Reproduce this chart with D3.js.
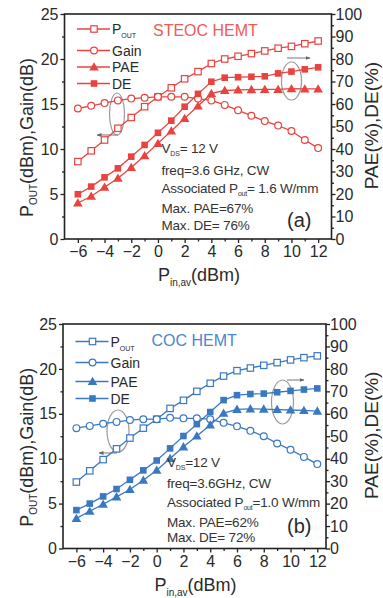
<!DOCTYPE html>
<html>
<head>
<meta charset="utf-8">
<script src="https://cdn.jsdelivr.net/npm/d3@7"></script>
<style>
  html, body { margin: 0; padding: 0; background: #fff; }
  svg { display: block; }
  text { font-family: "Liberation Sans", Arial, sans-serif; }
</style>
</head>
<body>
<svg id="chart" width="383" height="598"></svg>
<script>
// Input drive levels (dBm)
const pinLevels = [-6, -5, -4, -3, -2, -1, 0, 1, 2, 3, 4, 5, 6, 7, 8, 9, 10, 11, 12];

// (a) STEOC HEMT
const steocPout = [8.6, 9.8, 11.0, 12.3, 13.5, 14.7, 15.8, 16.8, 17.8, 18.6, 19.5, 20.0, 20.3, 20.6, 20.9, 21.2, 21.4, 21.7, 22.0];
const steocGain = [14.5, 14.8, 15.1, 15.4, 15.6, 15.7, 15.8, 15.8, 15.8, 15.6, 15.4, 14.9, 14.3, 13.7, 13.1, 12.6, 12.0, 11.0, 10.1];
const steocPAE  = [16.0, 19.0, 23.0, 27.0, 31.8, 37.0, 42.5, 48.0, 53.6, 59.1, 64.7, 66.0, 66.3, 66.4, 66.5, 66.5, 66.8, 66.7, 66.7];
const steocDE   = [19.9, 23.3, 27.4, 31.4, 36.6, 41.8, 47.2, 52.6, 58.8, 64.5, 69.9, 71.7, 71.9, 72.1, 72.3, 73.6, 74.4, 75.4, 76.3];

// (b) COC HEMT
const cocPout = [7.4, 8.65, 9.9, 11.1, 12.3, 13.4, 14.4, 15.6, 16.5, 17.5, 18.4, 19.2, 19.8, 20.1, 20.4, 20.7, 21.0, 21.25, 21.45];
const cocGain = [13.4, 13.65, 13.9, 14.1, 14.3, 14.4, 14.4, 14.55, 14.5, 14.5, 14.4, 14.0, 13.6, 13.1, 12.5, 11.7, 11.0, 10.2, 9.4];
const cocPAE  = [13.4, 16.6, 19.7, 23.0, 26.3, 30.4, 34.9, 40.1, 45.3, 50.1, 55.0, 60.3, 62.0, 62.2, 62.1, 61.9, 61.7, 61.5, 61.2];
const cocDE   = [17.1, 20.0, 23.2, 26.5, 30.6, 34.8, 39.2, 44.6, 50.1, 55.4, 60.8, 66.1, 68.3, 68.8, 69.0, 69.6, 70.2, 70.8, 71.3];

// Axis ticks
const xTicks = [-6, -4, -2, 0, 2, 4, 6, 8, 10, 12];
const xMinor = [-5, -3, -1, 1, 3, 5, 7, 9, 11];
const leftTicks = [0, 5, 10, 15, 20, 25];
const leftMinor = [2.5, 7.5, 12.5, 17.5, 22.5];
const rightTicks = [0, 10, 20, 30, 40, 50, 60, 70, 80, 90, 100];
const rightMinor = [5, 15, 25, 35, 45, 55, 65, 75, 85, 95];

// Legend / annotation texts
const seriesNames = ["P", "Gain", "PAE", "DE"];
const steocNotes = ["V|DS|= 12 V", "freq=3.6 GHz, CW", "Associated P|out|= 1.6 W/mm", "Max. PAE=67%", "Max. DE= 76%"];
const cocNotes = ["V|DS|=12 V", "freq=3.6GHz, CW", "Associated P|out|=1.0 W/mm", "Max. PAE=62%", "Max. DE= 72%"];

const svg = d3.select("#chart");
const defs = svg.append("defs");
defs.append("marker").attr("id", "arrowhead")
  .attr("viewBox", "0 0 10 10").attr("refX", 9).attr("refY", 5)
  .attr("markerWidth", 5).attr("markerHeight", 5).attr("orient", "auto")
  .append("path").attr("d", "M0,1 L10,5 L0,9 Z").attr("fill", "#666");

const panels = [
  {
    id: "a", color: "#e8433f", titleColor: "#ef5a57",
    title: "STEOC HEMT", tag: "(a)",
    pout: steocPout, gain: steocGain, pae: steocPAE, de: steocDE, notes: steocNotes,
    left: 64.5, right: 331.5, top: 14, bottom: 239, xMax: 13,
    noteX: 161.5, noteY: [153, 175, 193, 213, 230], clipNotes: false,
    legendY: [29, 50.5, 67, 83.5], legX: 77, titleY: 36,
    ellipses: [
      { cx: 117, cy: 114, rx: 7.5, ry: 21, arrow: [[118, 135], [97, 135]] },
      { cx: 291.5, cy: 81, rx: 10, ry: 19, arrow: [[287, 58], [310, 58]] }
    ]
  },
  {
    id: "b", color: "#3a78c2", titleColor: "#4a86cc",
    title: "COC HEMT", tag: "(b)",
    pout: cocPout, gain: cocGain, pae: cocPAE, de: cocDE, notes: cocNotes,
    left: 63, right: 326, top: 324, bottom: 548.5, xMax: 12.65,
    noteX: 167, noteY: [467, 487.5, 506.5, 526.5, 541.5], clipNotes: true,
    legendY: [341.5, 362.5, 381.5, 398.5], legX: 75.5, titleY: 346,
    ellipses: [
      { cx: 118, cy: 431, rx: 11, ry: 21, arrow: [[117, 453], [99, 453]] },
      { cx: 282.5, cy: 402, rx: 11, ry: 22, arrow: [[287, 380], [304, 380]] }
    ]
  }
];

function drawMarker(g, type, color, cx, cy) {
  if (type === "square") {
    g.append("rect").attr("x", cx - 3.2).attr("y", cy - 3.2).attr("width", 6.4).attr("height", 6.4)
      .attr("fill", "#fff").attr("stroke", color).attr("stroke-width", 1.2);
  } else if (type === "circle") {
    g.append("circle").attr("cx", cx).attr("cy", cy).attr("r", 3.4)
      .attr("fill", "#fff").attr("stroke", color).attr("stroke-width", 1.2);
  } else if (type === "triangle") {
    g.append("path").attr("d", d3.symbol(d3.symbolTriangle, 40)())
      .attr("transform", `translate(${cx},${cy + 0.8})`).attr("fill", color);
  } else {
    g.append("rect").attr("x", cx - 3.3).attr("y", cy - 3.3).attr("width", 6.6).attr("height", 6.6)
      .attr("fill", color);
  }
}

panels.forEach(p => {
  const g = svg.append("g").attr("class", "panel-" + p.id);
  const x = d3.scaleLinear().domain([-7, p.xMax]).range([p.left, p.right]);
  const yL = d3.scaleLinear().domain([0, 25]).range([p.bottom, p.top]);
  const yR = d3.scaleLinear().domain([0, 100]).range([p.bottom, p.top]);

  // Frame
  g.append("rect").attr("x", p.left).attr("y", p.top)
    .attr("width", p.right - p.left).attr("height", p.bottom - p.top)
    .attr("fill", "none").attr("stroke", "#222").attr("stroke-width", 1.6);

  const styleAxis = sel => {
    sel.select(".domain").remove();
    sel.selectAll("line").attr("stroke", "#222").attr("stroke-width", 1.3);
    sel.selectAll("text").attr("font-size", 16).attr("fill", "#2a2a2a")
      .attr("font-family", "'Liberation Sans', Arial, sans-serif");
  };

  // Bottom axis
  g.append("g").attr("transform", `translate(0,${p.bottom})`)
    .call(d3.axisBottom(x).tickValues(xTicks).tickSize(4).tickPadding(3).tickFormat(d3.format("d")))
    .call(styleAxis);
  g.append("g").attr("transform", `translate(0,${p.bottom})`)
    .call(d3.axisBottom(x).tickValues(xMinor).tickSize(2.5).tickFormat(""))
    .call(styleAxis);

  // Left axis
  g.append("g").attr("transform", `translate(${p.left},0)`)
    .call(d3.axisLeft(yL).tickValues(leftTicks).tickSize(4).tickPadding(2))
    .call(styleAxis);
  g.append("g").attr("transform", `translate(${p.left},0)`)
    .call(d3.axisLeft(yL).tickValues(leftMinor).tickSize(2.5).tickFormat(""))
    .call(styleAxis);

  // Right axis
  g.append("g").attr("transform", `translate(${p.right},0)`)
    .call(d3.axisRight(yR).tickValues(rightTicks).tickSize(4).tickPadding(0))
    .call(styleAxis);
  g.append("g").attr("transform", `translate(${p.right},0)`)
    .call(d3.axisRight(yR).tickValues(rightMinor).tickSize(2.5).tickFormat(""))
    .call(styleAxis);

  // Axis titles
  const midY = (p.top + p.bottom) / 2;
  const lt = g.append("text").attr("transform", `translate(33,${midY + 11}) rotate(-90)`)
    .attr("text-anchor", "middle").attr("font-size", 18).attr("fill", "#2a2a2a");
  lt.append("tspan").text("P");
  lt.append("tspan").text("OUT").attr("font-size", 10).attr("dy", 4);
  lt.append("tspan").text("(dBm),Gain(dB)").attr("dy", -4);

  g.append("text").attr("transform", `translate(377.5,${midY - 1}) rotate(-90)`)
    .attr("text-anchor", "middle").attr("font-size", 19).attr("fill", "#2a2a2a")
    .text("PAE(%),DE(%)");

  const xt = g.append("text").attr("x", (p.left + p.right) / 2 + 1).attr("y", p.bottom + 42)
    .attr("text-anchor", "middle").attr("font-size", 18).attr("fill", "#2a2a2a");
  xt.append("tspan").text("P");
  xt.append("tspan").text("in,av").attr("font-size", 10).attr("dy", 5);
  xt.append("tspan").text("(dBm)").attr("dy", -5);

  // Annotation ellipses with arrows
  p.ellipses.forEach(e => {
    g.append("ellipse").attr("cx", e.cx).attr("cy", e.cy).attr("rx", e.rx).attr("ry", e.ry)
      .attr("fill", "none").attr("stroke", "#9a9a9a").attr("stroke-width", 1.2);
    g.append("line").attr("x1", e.arrow[0][0]).attr("y1", e.arrow[0][1])
      .attr("x2", e.arrow[1][0]).attr("y2", e.arrow[1][1])
      .attr("stroke", "#777").attr("stroke-width", 1).attr("marker-end", "url(#arrowhead)");
  });

  // Series
  const series = [
    { vals: p.pout, y: yL, type: "square" },
    { vals: p.gain, y: yL, type: "circle" },
    { vals: p.pae, y: yR, type: "triangle" },
    { vals: p.de, y: yR, type: "filled" }
  ];
  series.forEach(s => {
    const pts = pinLevels.map((v, i) => [x(v), s.y(s.vals[i])]);
    g.append("path").attr("d", d3.line()(pts))
      .attr("fill", "none").attr("stroke", p.color).attr("stroke-width", 1.3);
    const mg = g.append("g");
    pts.forEach(pt => drawMarker(mg, s.type, p.color, pt[0], pt[1]));
  });

  // Legend
  const types = ["square", "circle", "triangle", "filled"];
  seriesNames.forEach((name, i) => {
    const ly = p.legendY[i];
    g.append("line").attr("x1", p.legX).attr("x2", p.legX + 33).attr("y1", ly).attr("y2", ly)
      .attr("stroke", p.color).attr("stroke-width", 1.3);
    drawMarker(g, types[i], p.color, p.legX + 17, ly);
    const t = g.append("text").attr("x", p.legX + 35).attr("y", ly + 5)
      .attr("font-size", 14).attr("fill", "#2a2a2a");
    t.append("tspan").text(name);
    if (i === 0) t.append("tspan").text("OUT").attr("font-size", 7).attr("dy", 4);
  });

  // Device name
  g.append("text").attr("x", p.id === "a" ? 153 : 151.5).attr("y", p.titleY)
    .attr("font-size", 16).attr("fill", p.titleColor).text(p.title);

  // Bias / performance notes
  let noteG = g.append("g");
  if (p.clipNotes) {
    defs.append("clipPath").attr("id", "clip-" + p.id)
      .append("rect").attr("x", p.left).attr("y", p.top)
      .attr("width", p.right - p.left - 1).attr("height", p.bottom - p.top);
    noteG.attr("clip-path", `url(#clip-${p.id})`);
  }
  p.notes.forEach((n, i) => {
    const parts = n.split("|");
    const t = noteG.append("text").attr("x", p.noteX).attr("y", p.noteY[i])
      .attr("font-size", 13.5).attr("fill", "#333").attr("letter-spacing", -0.2);
    t.append("tspan").text(parts[0]);
    if (parts.length > 1) {
      t.append("tspan").text(parts[1]).attr("font-size", 7).attr("dy", 3);
      t.append("tspan").text(parts[2]).attr("dy", -3);
    }
  });

  g.append("text").attr("x", 287).attr("y", p.id === "a" ? 227 : 533)
    .attr("font-size", 20).attr("fill", "#2a2a2a").text(p.tag);
});
</script>
</body>
</html>
